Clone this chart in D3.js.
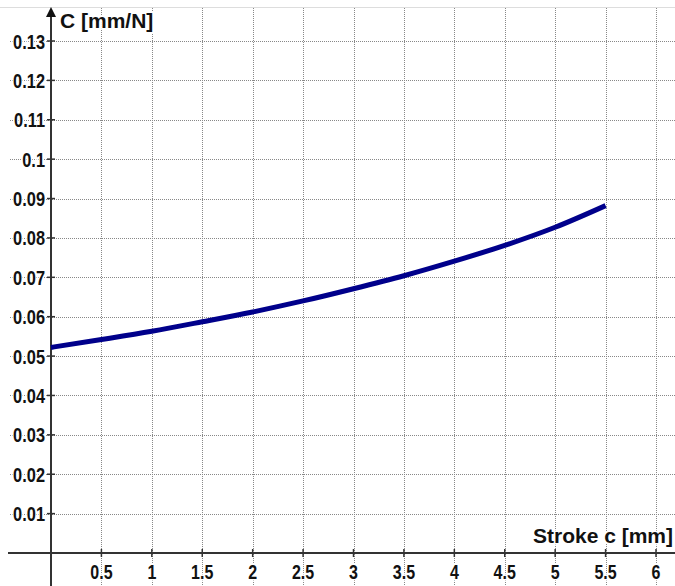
<!DOCTYPE html>
<html>
<head>
<meta charset="utf-8">
<script src="https://cdn.jsdelivr.net/npm/d3@7"></script>
<style>
  body { margin: 0; background: #fff; }
  svg { display: block; }
  .lbl { font-family: "Liberation Sans", Arial, sans-serif; font-weight: bold; fill: #111;
         paint-order: stroke; stroke: #fff; stroke-width: 3px; }
</style>
</head>
<body>
<svg width="675" height="586"></svg>
<script>
// -------------------- DATA --------------------
const strokeMm = [0, 0.5, 1, 1.5, 2, 2.5, 3, 3.5, 4, 4.5, 5, 5.5];
const compliance = [0.0522, 0.0542, 0.0563, 0.0587, 0.0612, 0.0640, 0.0671, 0.0704, 0.0741, 0.0781, 0.0827, 0.0882];
const xTicks = [0.5, 1, 1.5, 2, 2.5, 3, 3.5, 4, 4.5, 5, 5.5, 6];
const yTicks = [0.01, 0.02, 0.03, 0.04, 0.05, 0.06, 0.07, 0.08, 0.09, 0.1, 0.11, 0.12, 0.13];

const W = 675, H = 586;
const svg = d3.select("svg");

// -------------------- SCALES --------------------
const x = d3.scaleLinear().domain([0, 6]).range([51, 656]);
const y = d3.scaleLinear().domain([0, 0.13]).range([553, 41]);

// top border
svg.append("line").attr("x1", 0).attr("x2", W).attr("y1", 7.5).attr("y2", 7.5)
  .attr("stroke", "#ddd").attr("stroke-width", 1);

// -------------------- GRID --------------------
const grid = svg.append("g")
  .attr("stroke", "#888").attr("stroke-width", 1).attr("stroke-dasharray", "1,1");

grid.selectAll(".v").data(xTicks).enter().append("line")
  .attr("x1", d => Math.round(x(d)) + 0.5).attr("x2", d => Math.round(x(d)) + 0.5)
  .attr("y1", 8).attr("y2", H);

grid.selectAll(".h").data(yTicks).enter().append("line")
  .attr("x1", 10).attr("x2", W)
  .attr("y1", d => Math.round(y(d)) + 0.5).attr("y2", d => Math.round(y(d)) + 0.5);

// -------------------- AXES --------------------
const axisCol = "#333";
svg.append("line").attr("x1", 8).attr("x2", W).attr("y1", y(0)).attr("y2", y(0))
  .attr("stroke", axisCol).attr("stroke-width", 2.2);
svg.append("line").attr("x1", x(0)).attr("x2", x(0)).attr("y1", 14).attr("y2", H)
  .attr("stroke", axisCol).attr("stroke-width", 2);
// arrow
svg.append("path")
  .attr("d", `M${x(0)},7 L${x(0) - 5},17 L${x(0) + 5},17 Z`)
  .attr("fill", "#111");

// tick marks
svg.selectAll(".xt").data(xTicks).enter().append("line")
  .attr("x1", d => x(d)).attr("x2", d => x(d))
  .attr("y1", y(0) - 4).attr("y2", y(0) + 4)
  .attr("stroke", axisCol).attr("stroke-width", 1.5);
svg.selectAll(".yt").data(yTicks).enter().append("line")
  .attr("x1", x(0) - 4).attr("x2", x(0) + 4)
  .attr("y1", d => y(d)).attr("y2", d => y(d))
  .attr("stroke", axisCol).attr("stroke-width", 1.5);

// tick labels (narrow bold look: squeeze horizontally)
svg.selectAll(".xl").data(xTicks).enter().append("text")
  .attr("class", "lbl")
  .attr("transform", d => `translate(${x(d)},579) scale(0.8,1)`)
  .attr("text-anchor", "middle")
  .style("font-size", "20px")
  .text(d => String(d));

svg.selectAll(".yl").data(yTicks).enter().append("text")
  .attr("class", "lbl")
  .attr("transform", d => `translate(45,${y(d) + 7.5}) scale(0.82,1)`)
  .attr("text-anchor", "end")
  .style("font-size", "20px")
  .text(d => String(d));

// axis titles
svg.append("text").attr("class", "lbl")
  .attr("x", 60).attr("y", 28)
  .style("font-size", "21px")
  .text("C [mm/N]");

svg.append("text").attr("class", "lbl")
  .attr("x", 673).attr("y", 543)
  .attr("text-anchor", "end")
  .style("font-size", "21px")
  .text("Stroke c [mm]");

// -------------------- CURVE --------------------
const line = d3.line()
  .x((d, i) => x(strokeMm[i]))
  .y(d => y(d))
  .curve(d3.curveMonotoneX);

svg.append("path")
  .datum(compliance)
  .attr("d", line)
  .attr("fill", "none")
  .attr("stroke", "#00008b")
  .attr("stroke-width", 5);
</script>
</body>
</html>
